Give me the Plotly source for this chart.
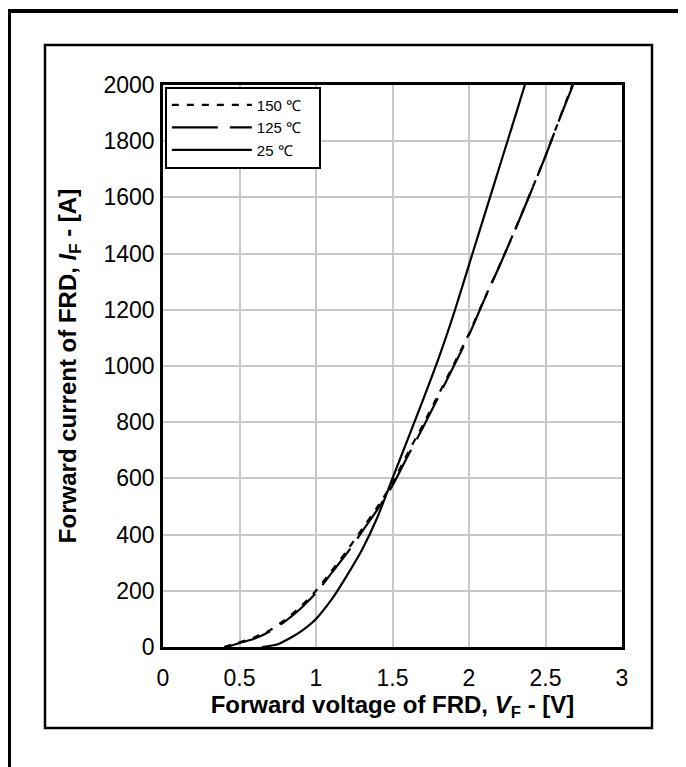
import plotly.graph_objects as go

# Forward voltage (V) / forward current (A)
v_25 = [0.645, 0.75, 0.84, 0.90, 1.00, 1.10, 1.14, 1.20, 1.30, 1.40, 1.50, 1.60, 1.70, 1.80, 1.90, 2.00, 2.10, 2.20, 2.30, 2.365]
i_25 = [0, 10, 35, 55, 100, 168, 200, 252, 345, 460, 600, 740, 880, 1025, 1185, 1360, 1535, 1710, 1885, 2000]

v_125 = [0.42, 0.50, 0.60, 0.70, 0.80, 0.90, 1.00, 1.10, 1.20, 1.30, 1.40, 1.50, 1.60, 1.70, 1.80, 1.90, 2.00, 2.10, 2.20, 2.30, 2.40, 2.50, 2.60, 2.68]
i_125 = [0, 14, 30, 56, 92, 137, 192, 262, 332, 410, 488, 575, 680, 782, 890, 999, 1110, 1236, 1357, 1483, 1613, 1747, 1891, 2000]

v_150 = [0.40, 0.50, 0.60, 0.70, 0.80, 0.90, 1.00, 1.10, 1.20, 1.30, 1.40, 1.50, 1.60, 1.70, 1.80, 1.90, 2.00, 2.10, 2.20, 2.30, 2.40, 2.50, 2.60, 2.675]
i_150 = [0, 17, 35, 60, 98, 144, 200, 270, 341, 419, 497, 584, 690, 792, 898, 1005, 1115, 1238, 1358, 1484, 1614, 1748, 1892, 2000]

x_ticks = [0, 0.5, 1, 1.5, 2, 2.5, 3]
x_tick_text = ["0", "0.5", "1", "1.5", "2", "2.5", "3"]
y_ticks = [0, 200, 400, 600, 800, 1000, 1200, 1400, 1600, 1800, 2000]

FONT = "Liberation Sans, Arial, sans-serif"
PAD = "\u00a0\u00a0\u00a0"

fig = go.Figure()
fig.add_trace(go.Scatter(x=v_150, y=i_150, mode="lines", name="150 ℃" + PAD,
                         line=dict(color="black", width=2.2, dash="7px,8px", shape="spline", smoothing=0.6)))
fig.add_trace(go.Scatter(x=v_125, y=i_125, mode="lines", name="125 ℃" + PAD,
                         line=dict(color="black", width=2.2, dash="46px,12px", shape="spline", smoothing=0.6)))
fig.add_trace(go.Scatter(x=v_25, y=i_25, mode="lines", name="25 ℃" + PAD,
                         line=dict(color="black", width=2.2, shape="spline", smoothing=0.6)))

# page offset of the figure (body margin)
OFF = 8
# plot area in page px: x 163..622, y 85..647
L, R, T, B = 163 - OFF, 622 - OFF, 85 - OFF, 647 - OFF
W, H = 686 - OFF, 767 - OFF
pw, ph = R - L, B - T

def px(x):
    return (x - OFF - L) / pw

def py(y):
    return (B - (y - OFF)) / ph

shapes = [
    dict(type="rect", xref="paper", yref="paper", x0=px(9), x1=px(760), y0=py(850), y1=py(11),
         line=dict(color="black", width=4), fillcolor="rgba(0,0,0,0)", layer="above"),
    dict(type="rect", xref="paper", yref="paper", x0=px(45), x1=px(652), y0=py(728), y1=py(45),
         line=dict(color="black", width=2.5), fillcolor="rgba(0,0,0,0)", layer="above"),
]

fig.update_layout(
    width=W, height=H,
    margin=dict(l=L, r=W - R, t=T, b=H - B, autoexpand=False),
    paper_bgcolor="white", plot_bgcolor="white",
    font=dict(family=FONT, color="black", size=23),
    showlegend=True,
    legend=dict(x=0.004, y=0.997, xanchor="left", yanchor="top",
                bgcolor="white", bordercolor="black", borderwidth=2,
                font=dict(size=15, family=FONT), itemwidth=80,
                tracegroupgap=0),
    shapes=shapes,
    xaxis=dict(range=[0, 3], tickvals=x_ticks, ticktext=x_tick_text,
               showgrid=True, gridcolor="#c8c8c8", gridwidth=1.5,
               showline=True, linecolor="black", linewidth=2.5, mirror=True,
               ticks="", zeroline=False, ticklabelstandoff=9,
               title=dict(text="<b>Forward voltage of FRD, <i>V</i><sub>F</sub> - [V]</b>",
                          font=dict(size=24), standoff=6)),
    yaxis=dict(range=[0, 2000], tickvals=y_ticks,
               showgrid=True, gridcolor="#c8c8c8", gridwidth=1.5,
               showline=True, linecolor="black", linewidth=2.5, mirror=True,
               ticks="", zeroline=False, ticklabelstandoff=1,
               title=dict(text="<b>Forward current of FRD, <i>I</i><sub>F</sub> - [A]</b>",
                          font=dict(size=24), standoff=21)),
)

fig.write_html("out.html")
